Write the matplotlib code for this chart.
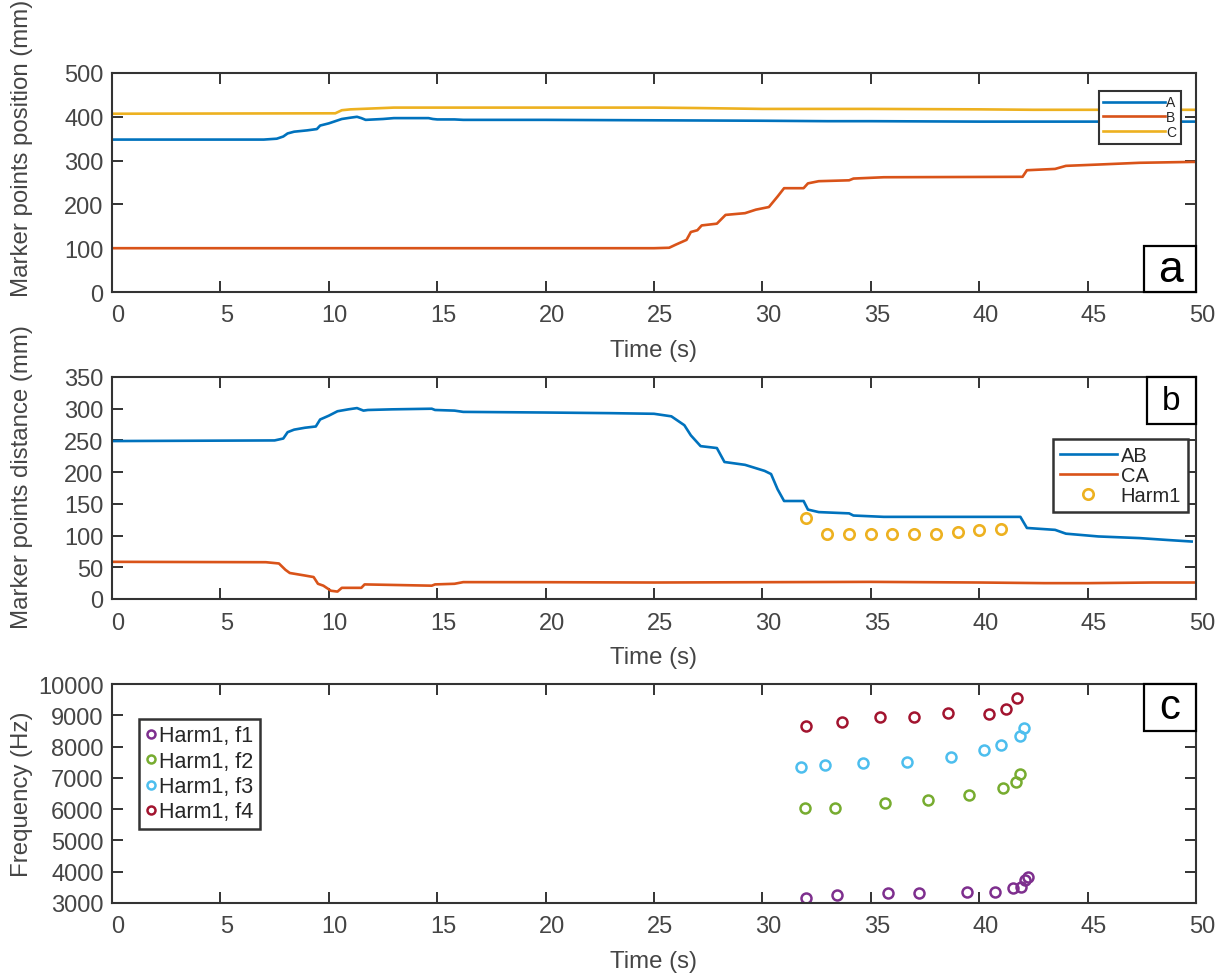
import matplotlib
matplotlib.use('Agg')
import matplotlib.pyplot as plt
from matplotlib.patches import Rectangle
from matplotlib.transforms import ScaledTranslation

plt.rcParams['font.family'] = ['Liberation Sans', 'DejaVu Sans']

# ---------------- data: panel a (positions, mm) ----------------
t_A = [0, 7.0, 7.6, 7.9, 8.1, 8.4, 9.0, 9.3, 9.45, 9.6, 10.0, 10.3, 10.6, 11.0, 11.3,
       11.5, 11.7, 12.5, 13.0, 14.6, 14.8, 15.0, 15.8, 16.2, 20, 25, 30, 33, 35, 40, 45, 50]
pos_A = [348, 348, 350, 355, 362, 366, 369, 371, 372, 380, 385, 390, 395, 398, 400,
         397, 393, 395, 397, 397, 395, 394, 394, 393, 393, 392, 391, 390, 390, 389, 389, 389]

t_B = [0, 10, 20, 25, 25.7, 26.0, 26.5, 26.7, 27.0, 27.2, 27.9, 28.3, 29.2, 29.7, 30.3,
       30.5, 30.7, 31.0, 31.9, 32.1, 32.6, 34.0, 34.2, 35.6, 42.0, 42.2, 43.5, 44.0,
       45.5, 47.4, 49.8, 50]
pos_B = [100, 100, 100, 100, 101, 108, 119, 137, 141, 152, 156, 176, 180, 188, 194,
         206, 218, 237, 237, 248, 253, 255, 259, 262, 263, 278, 281, 288,
         291, 295, 297, 297]

t_C = [0, 10.3, 10.6, 11.0, 12.0, 13.0, 20, 25, 27, 30, 35, 40, 42.5, 45, 50]
pos_C = [407, 408, 415, 417, 419, 421, 421, 421, 420, 418, 418, 417, 416, 416, 416]

# ---------------- data: panel b (distances, mm) ----------------
t_AB = [0, 7.5, 7.9, 8.1, 8.4, 8.9, 9.4, 9.6, 10.0, 10.4, 10.9, 11.3, 11.6, 11.8, 12.9,
        14.75, 14.9, 15.8, 16.2, 20, 23, 25, 25.8, 26.4, 26.7, 27.15, 27.9, 28.25, 29.2,
        30.1, 30.4, 30.7, 31.0, 31.9, 32.1, 32.6, 34.0, 34.2, 35.6, 41.9, 42.2, 43.5,
        44.0, 45.5, 47.4, 48.7, 49.8]
dist_AB = [249, 250, 253, 263, 267, 270, 272, 283, 289, 296, 299, 301, 297, 298, 299,
           300, 298, 297, 295, 294, 293, 292, 288, 274, 258, 241, 238, 216, 211.5,
           202, 197, 173, 154.5, 154.5, 141, 137, 135, 131.6, 129.5, 129.5, 112, 109,
           103, 98.6, 96, 93, 90.6]

t_CA = [0, 7.1, 7.7, 8.0, 8.2, 8.9, 9.3, 9.5, 9.75, 10.1, 10.4, 10.6, 11.5, 11.65,
        14.75, 14.9, 15.8, 16.2, 20, 25, 30, 35, 40, 43, 45, 48, 50]
dist_CA = [58.6, 58, 56, 46, 41, 37, 34.6, 24, 21, 13, 11.7, 17.6, 17.6, 23,
           21, 23, 24, 26.6, 26.5, 26, 26.5, 27, 26, 25, 25, 26, 26]

t_harm = [32, 33, 34, 35, 36, 37, 38, 39, 40, 41]
dist_harm = [127, 103, 103, 103, 103, 103, 103, 105.5, 108, 111]

# ---------------- data: panel c (frequencies, Hz) ----------------
t_f1 = [32.02, 33.44, 35.8, 37.24, 39.45, 40.71, 41.56, 41.91, 42.11, 42.27]
f1 = [3144, 3250, 3304, 3304, 3359, 3359, 3465, 3519, 3721, 3839]
t_f2 = [31.95, 33.36, 35.64, 37.63, 39.51, 41.1, 41.71, 41.86]
f2 = [6028, 6028, 6197, 6307, 6467, 6691, 6883, 7117]
t_f3 = [31.78, 32.9, 34.63, 36.67, 38.71, 40.22, 41.02, 41.88, 42.07]
f3 = [7351, 7405, 7460, 7511, 7671, 7896, 8056, 8325, 8601]
t_f4 = [32.02, 33.67, 35.41, 36.98, 38.57, 40.45, 41.25, 41.73]
f4 = [8664, 8773, 8934, 8934, 9062, 9040, 9200, 9542]

x_ticks = list(range(0, 51, 5))
ya_ticks = list(range(0, 501, 100))
yb_ticks = list(range(0, 351, 50))
yc_ticks = list(range(3000, 10001, 1000))

# ---------------- colours ----------------
BLUE, ORANGE, YELLOW = '#0072BD', '#D95319', '#EDB120'
PURPLE, GREEN, CYAN, RED = '#7E2F8E', '#77AC30', '#4DBEEE', '#A2142F'
SPINE = '#333333'
TXT = '#454545'

fig = plt.figure(figsize=(12.27, 9.78), dpi=100)
L = 112 / 1227
W = 1084 / 1227


def add_ax(top_px, bot_px):
    return fig.add_axes([L, (978 - bot_px) / 978, W, (bot_px - top_px) / 978])


axa = add_ax(74, 293)
axb = add_ax(378, 600)
axc = add_ax(685, 904)

offset = ScaledTranslation(6 / 100, 0, fig.dpi_scale_trans)


def style(ax, yticks, ylim, ylabel, ylab_y, hpx):
    ax.set_xlim(0, 50)
    ax.set_ylim(*ylim)
    ax.set_xticks(x_ticks)
    ax.set_yticks(yticks)
    for s in ax.spines.values():
        s.set_linewidth(1.5)
        s.set_color(SPINE)
    ax.tick_params(direction='in', length=8, width=1.4, color=SPINE, top=True,
                   right=True, labelsize=17, labelcolor=TXT)
    ax.tick_params(axis='x', pad=9)
    ax.tick_params(axis='y', pad=6)
    for tk in ax.xaxis.get_major_ticks():
        tk.label1.set_transform(tk.label1.get_transform() + offset)
    ax.set_xlabel('Time (s)', fontsize=17.3, color=TXT)
    ax.xaxis.set_label_coords(0.5, -47 / hpx)
    ax.set_ylabel(ylabel, fontsize=17.3, color=TXT)
    ax.yaxis.set_label_coords(-0.0729, ylab_y)


def panel_label(ax, letter, corner, size, wpx, hpx, axh):
    w = wpx / 1084
    h = hpx / axh
    x0 = 1 - w
    y0 = 0 if corner == 'lower' else 1 - h
    ax.add_patch(Rectangle((x0, y0), w, h, transform=ax.transAxes, facecolor='white',
                           edgecolor='black', linewidth=1.6, clip_on=False, zorder=10))
    ax.text(x0 + w / 2, y0 + h / 2, letter, transform=ax.transAxes, ha='center',
            va='center', fontsize=size, color='black', zorder=11)


# ---------------- panel a ----------------
lw = 1.9
axa.plot(t_A, pos_A, color=BLUE, lw=lw, label='A')
axa.plot(t_B, pos_B, color=ORANGE, lw=lw, label='B')
axa.plot(t_C, pos_C, color=YELLOW, lw=lw, label='C')
style(axa, ya_ticks, (0, 500), 'Marker points position (mm)', 0.662, 219)
lega = axa.legend(loc='upper right', bbox_to_anchor=(0.986, 0.92), fontsize=10,
                  handlelength=4.4, handletextpad=0.1, labelspacing=0.05,
                  borderpad=0.35, borderaxespad=0, fancybox=False, framealpha=1,
                  edgecolor=SPINE)
lega.get_frame().set_linewidth(1.5)
panel_label(axa, 'a', 'lower', 32, 52, 46, 219)

# ---------------- panel b ----------------
axb.plot(t_AB, dist_AB, color=BLUE, lw=lw, label='AB')
axb.plot(t_CA, dist_CA, color=ORANGE, lw=lw, label='CA')
axb.plot(t_harm, dist_harm, linestyle='none', marker='o', markersize=7.5,
         markerfacecolor='none', markeredgecolor=YELLOW, markeredgewidth=1.9,
         label='Harm1')
style(axb, yb_ticks, (0, 350), 'Marker points distance (mm)', 0.554, 222)
legb = axb.legend(loc='upper right', bbox_to_anchor=(0.9926, 0.7207), fontsize=14.5,
                  handlelength=2.8, handletextpad=0.2, labelspacing=0.05,
                  borderpad=0.35, borderaxespad=0, fancybox=False, framealpha=1,
                  edgecolor=SPINE)
legb.get_frame().set_linewidth(1.8)
panel_label(axb, 'b', 'upper', 24, 49, 47, 222)

# ---------------- panel c ----------------
for tt, ff, col, lab in [(t_f1, f1, PURPLE, 'Harm1, f1'), (t_f2, f2, GREEN, 'Harm1, f2'),
                         (t_f3, f3, CYAN, 'Harm1, f3'), (t_f4, f4, RED, 'Harm1, f4')]:
    axc.plot(tt, ff, linestyle='none', marker='o', markersize=7.2,
             markerfacecolor='none', markeredgecolor=col, markeredgewidth=1.8,
             label=lab)
style(axc, yc_ticks, (3000, 10000), 'Frequency (Hz)', 0.5, 219)
legc = axc.legend(loc='upper left', bbox_to_anchor=(0.0249, 0.840), fontsize=15.5,
                  handlelength=0.5, handletextpad=0.15, labelspacing=0.2,
                  borderpad=0.3, borderaxespad=0, fancybox=False, framealpha=1,
                  edgecolor=SPINE, markerscale=0.8)
legc.get_frame().set_linewidth(1.8)
panel_label(axc, 'c', 'upper', 30, 52, 47, 219)

for lg in (lega, legb, legc):
    for tx in lg.get_texts():
        tx.set_color('#262626')

fig.savefig('out.png', dpi=100)
